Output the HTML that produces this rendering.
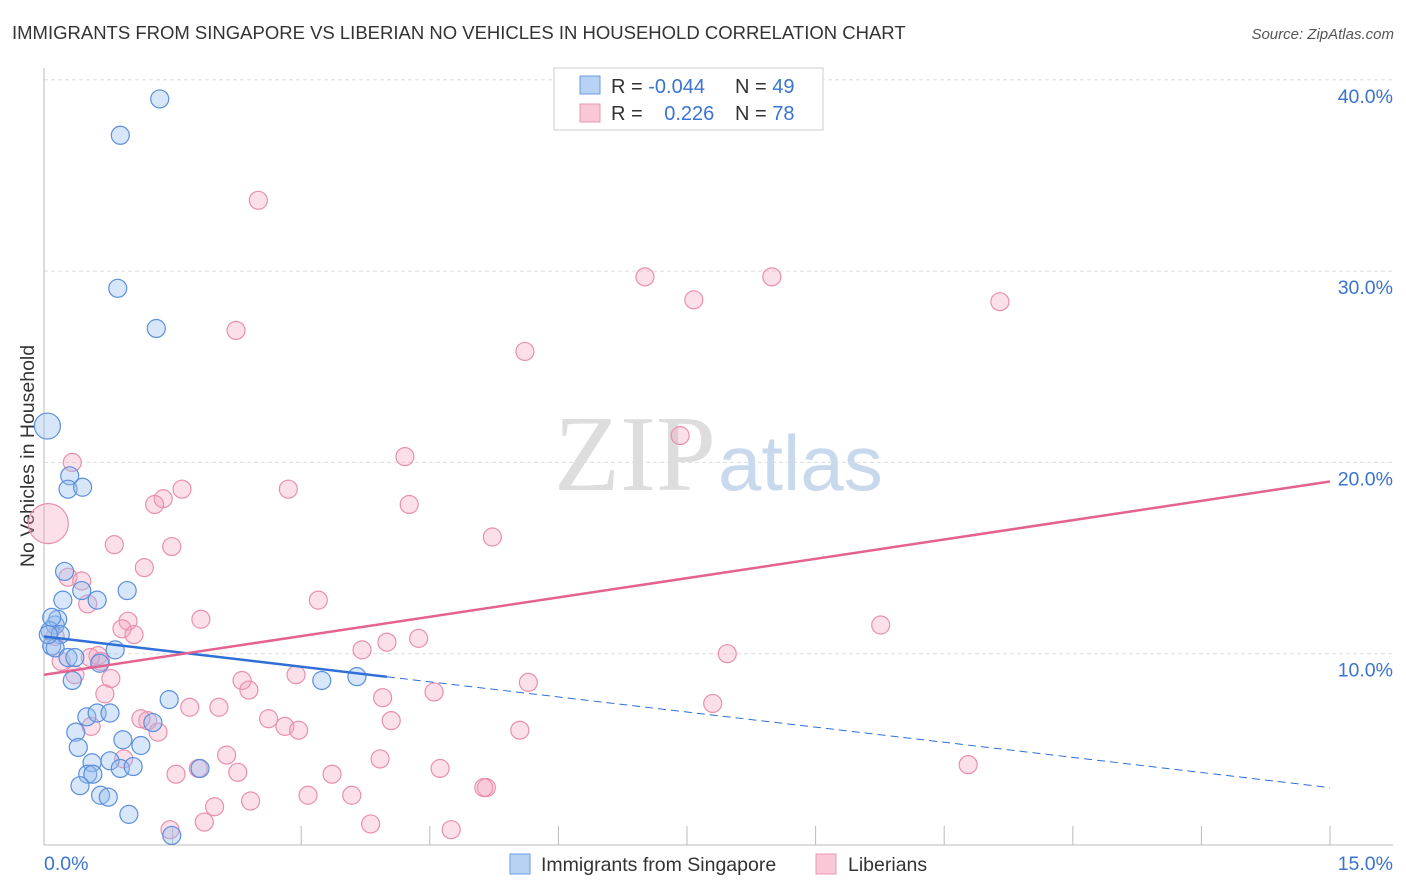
<!DOCTYPE html>
<html><head><meta charset="utf-8"><style>
body{margin:0;background:#fff;font-family:"Liberation Sans",sans-serif}
#wrap{position:relative;width:1406px;height:892px;overflow:hidden}
</style></head><body><div id="wrap">
<svg id="c" width="1406" height="892" xmlns="http://www.w3.org/2000/svg">
<text x="12" y="39" font-size="18.5" fill="#333">IMMIGRANTS FROM SINGAPORE VS LIBERIAN NO VEHICLES IN HOUSEHOLD CORRELATION CHART</text>
<text x="1394" y="39" font-size="15" fill="#555" font-style="italic" text-anchor="end">Source: ZipAtlas.com</text>
<text x="716" y="490" font-size="108" fill="#ddd" text-anchor="end" font-family="Liberation Serif,serif">ZIP</text>
<text x="718" y="490" font-size="78" fill="#c8d9ee">atlas</text>
<text transform="translate(34,456) rotate(-90)" font-size="19.5" fill="#333" text-anchor="middle">No Vehicles in Household</text>
<g id="grid"></g><g id="pts"></g><g id="lines"></g>
<g>
<rect x="554" y="68" width="269" height="62" fill="#fff" stroke="#ccc"/>
<rect x="580" y="76" width="20" height="18" fill="#b8d2f3" stroke="#6a9be0"/>
<rect x="580" y="104" width="20" height="18" fill="#f8c8d7" stroke="#e998b2"/>
<text x="611" y="93" font-size="20" fill="#333">R = <tspan fill="#3a73d0">-0.044</tspan></text>
<text x="735" y="93" font-size="20" fill="#333">N = <tspan fill="#3a73d0">49</tspan></text>
<text x="611" y="120" font-size="20" fill="#333">R = <tspan fill="#3a73d0" dx="16">0.226</tspan></text>
<text x="735" y="120" font-size="20" fill="#333">N = <tspan fill="#3a73d0">78</tspan></text>
</g>
<g>
<rect x="510" y="854" width="20" height="20" fill="#b8d2f3" stroke="#6a9be0"/>
<text x="541" y="871" font-size="19.5" fill="#333">Immigrants from Singapore</text>
<rect x="816" y="854" width="20" height="20" fill="#f8c8d7" stroke="#e998b2"/>
<text x="848" y="871" font-size="19.5" fill="#333">Liberians</text>
</g>
</svg></div>
<script>
const yTicks=[10,20,30,40];
const xTickLabels=["0.0%","15.0%"];
const blueX=[1.35,0.89,0.86,1.31,0.04,0.30,0.28,0.45,0.24,0.44,0.22,0.62,0.97,0.13,0.16,0.07,0.19,0.09,0.13,0.28,0.36,0.65,0.83,0.33,1.46,0.50,0.62,0.77,0.37,0.40,0.92,1.13,1.27,0.56,0.77,0.51,0.57,0.89,1.04,0.42,0.66,0.75,1.82,0.99,1.49,3.24,3.65,0.09,0.05];
const blueY=[39.0,37.1,29.1,27.0,21.9,19.3,18.6,18.7,14.3,13.3,12.8,12.8,13.3,11.5,11.8,11.2,11.0,10.4,10.3,9.8,9.8,9.5,10.2,8.6,7.6,6.7,6.9,6.9,5.9,5.1,5.5,5.2,6.4,4.3,4.4,3.7,3.7,4.0,4.1,3.1,2.6,2.5,4.0,1.6,0.5,8.6,8.8,11.9,11.0];
const blueR=[9,9,9,9,13,9,9,9,9,9,9,9,9,9,9,9,9,9,9,9,9,9,9,9,9,9,9,9,9,9,9,9,9,9,9,9,9,9,9,9,9,9,9,9,9,9,9,9,9];
const pinkX=[2.50,2.24,7.01,8.49,7.58,11.15,5.61,7.42,4.21,0.33,1.61,1.39,1.29,2.85,4.26,5.23,0.82,1.49,1.17,0.28,0.44,0.51,3.20,0.98,0.91,1.05,1.83,9.76,4.37,4.00,3.71,7.97,0.63,0.66,0.36,0.20,0.13,0.05,2.94,0.78,2.31,2.39,0.71,3.95,4.55,5.65,1.70,2.04,7.80,1.21,1.13,2.62,1.33,2.81,2.97,0.55,4.05,5.55,2.13,0.93,3.92,1.80,2.26,1.54,3.36,4.62,10.78,5.16,5.13,3.08,3.59,2.41,1.99,1.87,3.81,4.75,1.47,0.54];
const pinkY=[33.7,26.9,29.7,29.7,28.5,28.4,25.8,21.4,20.3,20.0,18.6,18.1,17.8,18.6,17.8,16.1,15.7,15.6,14.5,14.0,13.8,12.6,12.8,11.7,11.3,11.0,11.8,11.5,10.8,10.6,10.2,10.0,9.9,9.6,8.9,9.6,10.9,16.8,8.9,8.7,8.6,8.1,7.9,7.7,8.0,8.5,7.2,7.2,7.4,6.5,6.6,6.6,5.9,6.2,6.0,6.2,6.5,6.0,4.7,4.5,4.5,4.0,3.8,3.7,3.7,4.0,4.2,3.0,3.0,2.6,2.6,2.3,2.0,1.2,1.1,0.8,0.8,9.8];
const pinkR=pinkX.map((_,i)=>i===37?20:9);
const blueTrend=[10.9,3.0];
const blueSolidEnd=4.0;
const pinkTrend=[8.9,19.0];
const X=v=>44+v*85.73, Y=v=>845-v*19.13;
const NS="http://www.w3.org/2000/svg";
function mk(tag,attrs,parent){const e=document.createElementNS(NS,tag);for(const k in attrs)e.setAttribute(k,attrs[k]);parent.appendChild(e);return e;}
const grid=document.getElementById('grid');
yTicks.forEach(t=>{
 const l=mk('line',{x1:44,x2:1393,y1:Y(t),y2:Y(t),stroke:'#ddd','stroke-dasharray':'4,3'},grid);
 
 
 const tx=mk('text',{x:1393,y:Y(t)+23,'font-size':19.5,fill:'#3a73d0','text-anchor':'end'},grid);
 tx.textContent=t.toFixed(1)+'%';
 
 
});
const ax=mk('line',{x1:44,x2:44,y1:68,y2:845,stroke:'#bbb'},grid);


const bx=mk('line',{x1:44,x2:1393,y1:845,y2:845,stroke:'#bbb'},grid);


for(let i=1;i<=10;i++){const xx=44+i*128.6;
 const tk=mk('line',{x1:xx,x2:xx,y1:826,y2:845,stroke:'#bbb'},grid);
 
 }
[[0,'start',44],[1,'end',1393]].forEach(([i,a,x])=>{
 const t=mk('text',{x:x,y:870,'font-size':19.5,fill:'#3a73d0','text-anchor':a},grid);
 t.textContent=xTickLabels[i];
 
 });
const pts=document.getElementById('pts');
pinkX.forEach((v,i)=>{const c=mk('circle',{cx:X(v),cy:Y(pinkY[i]),r:pinkR[i],fill:'rgba(244,160,188,0.32)',stroke:'#e98fae','stroke-width':1.2},pts);
 
 });
blueX.forEach((v,i)=>{const c=mk('circle',{cx:X(v),cy:Y(blueY[i]),r:blueR[i],fill:'rgba(150,188,238,0.38)',stroke:'#5b8fdc','stroke-width':1.2},pts);
 
 });
const ln=document.getElementById('lines');
const by=x=>blueTrend[0]+(blueTrend[1]-blueTrend[0])*x/15;
const l1=mk('line',{x1:X(0),y1:Y(by(0)),x2:X(blueSolidEnd),y2:Y(by(blueSolidEnd)),stroke:'#2f6fd6','stroke-width':2.5},ln);


const l2=mk('line',{x1:X(blueSolidEnd),y1:Y(by(blueSolidEnd)),x2:X(15),y2:Y(by(15)),stroke:'#2f6fd6','stroke-width':1,'stroke-dasharray':'8,5'},ln);


const l3=mk('line',{x1:X(0),y1:Y(pinkTrend[0]),x2:X(15),y2:Y(pinkTrend[1]),stroke:'#e4628f','stroke-width':2.5},ln);


</script></body></html>
